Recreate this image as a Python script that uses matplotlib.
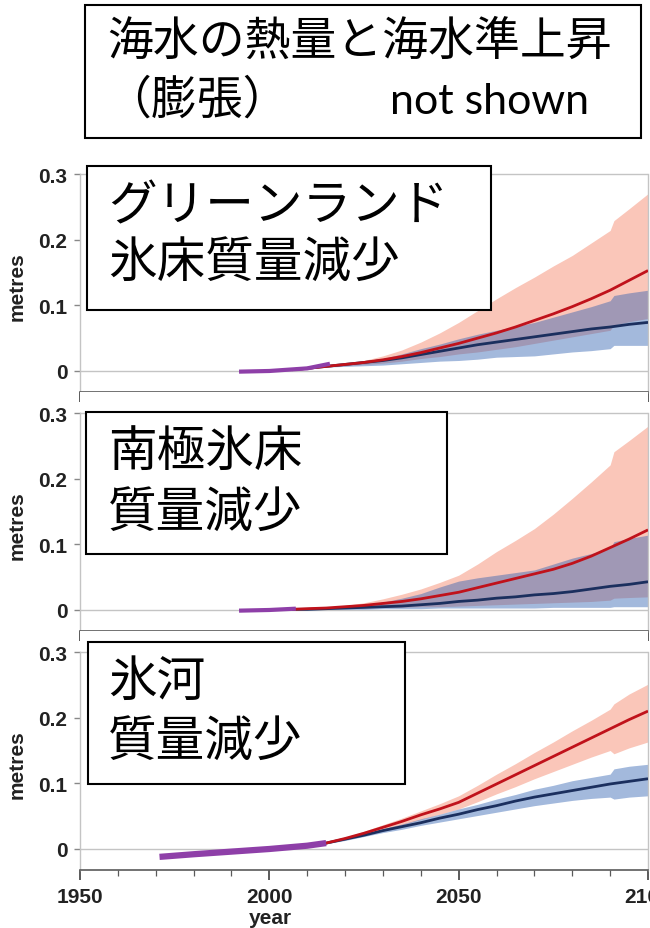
import matplotlib
matplotlib.use("Agg")
import matplotlib.pyplot as plt
from matplotlib.patches import Rectangle
from matplotlib.ticker import MultipleLocator

plt.rcParams['font.family'] = ['Liberation Sans', 'Noto Sans CJK JP', 'DejaVu Sans']

# ---------------- data ----------------
proj_years = [2006, 2010, 2015, 2020, 2025, 2030, 2035, 2040, 2045, 2050,
              2055, 2060, 2065, 2070, 2075, 2080, 2085, 2090, 2095, 2100]
band_years = [2006, 2010, 2015, 2020, 2025, 2030, 2035, 2040, 2045, 2050,
              2055, 2060, 2065, 2070, 2075, 2080, 2085, 2090, 2091, 2095, 2100]

# Greenland ice sheet
gr_obs_years = [1992, 2000, 2010, 2016]
gr_obs = [-0.001, 0.0, 0.004, 0.011]
gr_rcp85 = [0.002, 0.004, 0.007, 0.010, 0.013, 0.017, 0.022, 0.028, 0.035, 0.042,
            0.050, 0.058, 0.067, 0.077, 0.087, 0.098, 0.110, 0.123, 0.138, 0.153]
gr_rcp26 = [0.002, 0.004, 0.007, 0.010, 0.013, 0.016, 0.020, 0.025, 0.030, 0.035,
            0.040, 0.044, 0.048, 0.052, 0.056, 0.060, 0.064, 0.067, 0.071, 0.074]
gr_rcp85_hi = [0.002, 0.004, 0.007, 0.011, 0.016, 0.023, 0.032, 0.044, 0.058, 0.074,
               0.092, 0.110, 0.127, 0.143, 0.160, 0.176, 0.195, 0.214, 0.229, 0.247, 0.270]
gr_rcp85_lo = [0.002, 0.004, 0.006, 0.008, 0.010, 0.012, 0.015, 0.019, 0.022, 0.026,
               0.029, 0.033, 0.037, 0.042, 0.047, 0.052, 0.057, 0.062, 0.070, 0.075, 0.080]
gr_rcp26_hi = [0.002, 0.004, 0.007, 0.010, 0.014, 0.019, 0.026, 0.034, 0.041, 0.049,
               0.056, 0.062, 0.068, 0.074, 0.082, 0.090, 0.098, 0.107, 0.115, 0.119, 0.123]
gr_rcp26_lo = [0.002, 0.004, 0.006, 0.007, 0.008, 0.009, 0.011, 0.013, 0.015, 0.016,
               0.018, 0.021, 0.022, 0.023, 0.026, 0.029, 0.031, 0.034, 0.039, 0.039, 0.039]

# Antarctic ice sheet
an_obs_years = [1992, 2000, 2007]
an_obs = [-0.001, 0.0, 0.002]
an_rcp85 = [0.001, 0.002, 0.003, 0.005, 0.007, 0.010, 0.013, 0.017, 0.022, 0.027,
            0.034, 0.041, 0.048, 0.055, 0.062, 0.071, 0.082, 0.095, 0.108, 0.122]
an_rcp26 = [0.001, 0.001, 0.002, 0.003, 0.004, 0.005, 0.006, 0.008, 0.010, 0.013,
            0.015, 0.018, 0.020, 0.023, 0.025, 0.028, 0.032, 0.036, 0.039, 0.043]
an_rcp85_hi = [0.001, 0.002, 0.004, 0.007, 0.011, 0.017, 0.024, 0.032, 0.042, 0.053,
               0.070, 0.089, 0.106, 0.124, 0.146, 0.170, 0.195, 0.221, 0.241, 0.258, 0.280]
an_rcp85_lo = [0.001, 0.001, 0.002, 0.003, 0.003, 0.004, 0.004, 0.005, 0.005, 0.006,
               0.007, 0.008, 0.009, 0.010, 0.011, 0.012, 0.013, 0.015, 0.018, 0.019, 0.020]
an_rcp26_hi = [0.001, 0.002, 0.003, 0.005, 0.008, 0.012, 0.018, 0.025, 0.035, 0.044,
               0.049, 0.053, 0.057, 0.061, 0.070, 0.079, 0.086, 0.094, 0.104, 0.109, 0.114]
an_rcp26_lo = [0.000, 0.000, 0.001, 0.001, 0.001, 0.002, 0.002, 0.002, 0.003, 0.003,
               0.003, 0.003, 0.003, 0.003, 0.004, 0.004, 0.004, 0.004, 0.005, 0.005, 0.005]

# Glaciers
gl_obs_years = [1971, 1980, 1990, 2000, 2010, 2015]
gl_obs = [-0.012, -0.008, -0.004, 0.0, 0.005, 0.009]
gl_rcp85 = [0.003, 0.005, 0.009, 0.016, 0.024, 0.033, 0.042, 0.052, 0.061, 0.071,
            0.085, 0.099, 0.113, 0.127, 0.141, 0.155, 0.169, 0.183, 0.197, 0.210]
gl_rcp26 = [0.003, 0.005, 0.009, 0.015, 0.021, 0.028, 0.034, 0.040, 0.047, 0.053,
            0.060, 0.066, 0.073, 0.079, 0.084, 0.089, 0.094, 0.099, 0.103, 0.107]
gl_rcp85_hi = [0.003, 0.005, 0.010, 0.018, 0.027, 0.037, 0.047, 0.058, 0.069, 0.081,
               0.097, 0.114, 0.130, 0.147, 0.163, 0.180, 0.196, 0.213, 0.221, 0.236, 0.251]
gl_rcp85_lo = [0.003, 0.005, 0.008, 0.014, 0.021, 0.029, 0.037, 0.045, 0.053, 0.061,
               0.072, 0.084, 0.095, 0.107, 0.118, 0.129, 0.140, 0.150, 0.145, 0.154, 0.163]
gl_rcp26_hi = [0.003, 0.005, 0.010, 0.016, 0.023, 0.031, 0.038, 0.046, 0.053, 0.061,
               0.068, 0.076, 0.083, 0.091, 0.097, 0.104, 0.109, 0.114, 0.122, 0.126, 0.129]
gl_rcp26_lo = [0.003, 0.005, 0.008, 0.013, 0.019, 0.025, 0.030, 0.036, 0.041, 0.046,
               0.051, 0.056, 0.061, 0.066, 0.070, 0.074, 0.077, 0.079, 0.076, 0.079, 0.081]

title_line1 = "海水の熱量と海水準上昇"
title_line2a = "（膨張）"
title_line2b = "not shown"
panel_labels = [["グリーンランド", "氷床質量減少"],
                ["南極氷床", "質量減少"],
                ["氷河", "質量減少"]]
x_ticks = [1950, 2000, 2050, 2100]
y_ticks = [0, 0.1, 0.2, 0.3]
y_tick_labels = ["0", "0.1", "0.2", "0.3"]
y_label = "metres"
x_label = "year"

panels = [
    (gr_obs_years, gr_obs, gr_rcp85, gr_rcp26, gr_rcp85_hi, gr_rcp85_lo, gr_rcp26_hi, gr_rcp26_lo, 3.0),
    (an_obs_years, an_obs, an_rcp85, an_rcp26, an_rcp85_hi, an_rcp85_lo, an_rcp26_hi, an_rcp26_lo, 3.0),
    (gl_obs_years, gl_obs, gl_rcp85, gl_rcp26, gl_rcp85_hi, gl_rcp85_lo, gl_rcp26_hi, gl_rcp26_lo, 4.5),
]

# ---------------- styling ----------------
W, H = 650, 929
fig = plt.figure(figsize=(W / 100, H / 100), dpi=100)

RED_BAND = '#fac6b9'
BLUE_BAND = '#2a5db0'
RED_LINE = '#c0121b'
BLUE_LINE = '#1b2f5e'
PURPLE = '#8e3fa8'
GRID = '#c4c4c4'
AXIS = '#5a5a5a'


def fx(px):
    return px / W


def fy(py):
    return 1 - py / H


ax_left, ax_right = 80, 648
panel_tops = [154, 393, 632]
panel_h = 239
ylim = (-0.032, 0.332)

box_specs = [  # left, top, right, bottom (px), line centres
    (87, 167, 491, 311, [207, 263]),
    (86, 413, 447, 555, [452, 513]),
    (88, 643, 405, 785, [682, 742]),
]

for i, (oy, ov, r85, r26, r85h, r85l, r26h, r26l, obs_lw) in enumerate(panels):
    top = panel_tops[i]
    ax = fig.add_axes([fx(ax_left), fy(top + panel_h), fx(ax_right - ax_left), panel_h / H])
    ax.set_xlim(1950, 2100)
    ax.set_ylim(*ylim)

    ax.fill_between(band_years, r85l, r85h, color=RED_BAND, lw=0, zorder=1)
    ax.fill_between(band_years, r26l, r26h, color=BLUE_BAND, alpha=0.43, lw=0, zorder=2)
    ax.plot(proj_years, r26, color=BLUE_LINE, lw=2.0, zorder=4, solid_capstyle='butt')
    ax.plot(proj_years, r85, color=RED_LINE, lw=2.0, zorder=5, solid_capstyle='butt')
    ax.plot(oy, ov, color=PURPLE, lw=obs_lw, zorder=6, solid_capstyle='butt')

    ax.axhline(0, color=GRID, lw=1.0, zorder=0.5)
    ax.axhline(0.3, color=GRID, lw=1.0, zorder=0.5)

    ax.spines['top'].set_visible(False)
    for s in ('left', 'right'):
        ax.spines[s].set_color(GRID)
        ax.spines[s].set_linewidth(1.0)
        ax.spines[s].set_bounds(ylim[0], 0.3)
    ax.spines['bottom'].set_color(AXIS)
    ax.spines['bottom'].set_linewidth(1.2)

    ax.set_yticks(y_ticks)
    ax.set_yticklabels(y_tick_labels)
    ax.tick_params(axis='y', direction='out', length=4, width=1.0, color='#888888',
                   pad=5, labelsize=15)
    for lab in ax.get_yticklabels():
        lab.set_fontweight('bold')
        lab.set_color('#222222')

    ax.set_xticks(x_ticks)
    ax.xaxis.set_minor_locator(MultipleLocator(10))
    ax.tick_params(axis='x', which='major', direction='out', length=7, width=1.4, color=AXIS,
                   pad=5, labelsize=15)
    ax.tick_params(axis='x', which='minor', direction='out', length=4, width=0.9, color=AXIS)
    if i < 2:
        ax.tick_params(axis='x', labelbottom=False)
    else:
        for lab in ax.get_xticklabels():
            lab.set_fontweight('bold')
            lab.set_color('#222222')

    ax.set_ylabel(y_label, fontsize=15, fontweight='bold', color='#222222')
    ax.yaxis.set_label_coords(-0.094, 0.445)

    # label box
    l, t, r, b, ys = box_specs[i]
    fig.patches.append(Rectangle((fx(l), fy(b)), fx(r - l), (b - t) / H,
                                 transform=fig.transFigure, facecolor='white',
                                 edgecolor='black', lw=1.5, zorder=10))
    for txt, yc in zip(panel_labels[i], ys):
        fig.text(fx(108), fy(yc), txt, fontsize=35, family=['Noto Sans CJK JP'],
                 ha='left', va='center', zorder=11)

fig.text(fx(270), fy(919), x_label, fontsize=15, fontweight='bold', color='#222222',
         ha='center', va='center')

# top box
fig.patches.append(Rectangle((fx(85), fy(139)), fx(641 - 85), (139 - 6) / H,
                             transform=fig.transFigure, facecolor='white',
                             edgecolor='black', lw=1.5, zorder=10))
fig.text(fx(360), fy(42), title_line1, fontsize=33, family=['Noto Sans CJK JP'],
         ha='center', va='center', zorder=11)
fig.text(fx(105), fy(100), title_line2a, fontsize=33, family=['Noto Sans CJK JP'],
         ha='left', va='center', zorder=11)
fig.text(fx(390), fy(102), title_line2b, fontsize=31, family=['Lato', 'DejaVu Sans'],
         ha='left', va='center', zorder=11)

fig.savefig('out.png', dpi=100)
